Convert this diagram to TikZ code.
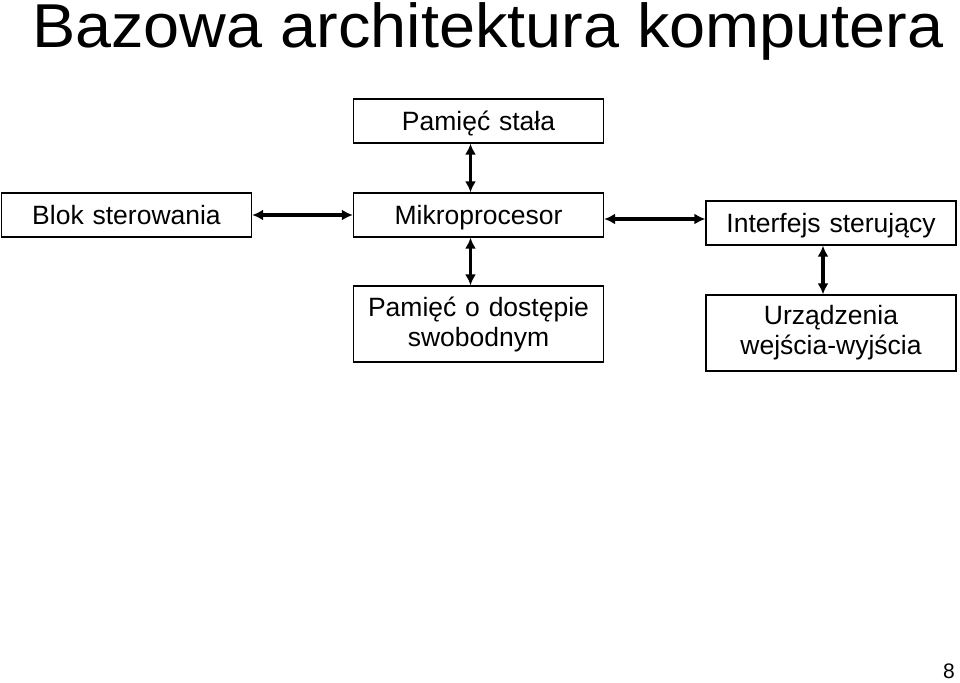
\documentclass[tikz,border=0pt]{standalone}
\usepackage{fontspec}
\setmainfont{Liberation Sans}
\newfontfamily\tytulfont[FakeStretch=1.045]{Liberation Sans}
\usepackage{tikz}
\usetikzlibrary{arrows.meta,positioning,calc}
\tikzset{>={Latex[length=11pt,width=11pt]}}
\tikzset{
  blok/.style={draw=black, line width=1.3pt, minimum height=44pt, text width=250pt, align=center, inner sep=0pt, font=\fontsize{26.5}{30}\selectfont},
  blokjeden/.style={blok, text height=19pt, text depth=1pt},
  blokdwa/.style={blok, minimum height=76pt},
  strzalka/.style={<->, line width=3.5pt}
}

\begin{document}
\begin{tikzpicture}[x=1pt, y=-1pt]
    \useasboundingbox (0,0) rectangle (960,682);

    \node[anchor=base west, inner sep=0pt, font=\tytulfont\fontsize{62}{64}\selectfont] (tytul) at (32,48) {Bazowa architektura komputera};

    \node[blokjeden] (ps) at (478.5,121) {Pami\k{e}\'c sta\l{}a};
    \node[blokjeden] (bs) at (126.5,215) {Blok sterowania};
    \node[blokjeden] (mp) at (478.5,215) {Mikroprocesor};
    \node[blokjeden] (is) at (831,223) {Interfejs steruj\k{a}cy};
    \node[blokdwa] (ram) at (478.5,324) {Pami\k{e}\'c o dost\k{e}pie\\swobodnym};
    \node[blokdwa] (io) at (831,333) {Urz\k{a}dzenia\\wej\'scia-wyj\'scia};

    % polaczenia
    \draw[strzalka] (bs.east) -- (mp.west);
    \draw[strzalka] ([xshift=-8pt]ps.south) -- ([xshift=-8pt]mp.north);
    \draw[strzalka] ([xshift=-8pt]mp.south) -- ([xshift=-8pt]ram.north);
    \draw[strzalka] ([yshift=-4pt]mp.east) -- ([yshift=4pt]is.west);
    \draw[strzalka] ([xshift=-8pt]is.south) -- ([xshift=-8pt]io.north);

    \node[anchor=base east, inner sep=0pt, font=\fontsize{21}{22}\selectfont] (nr) at (955,678) {8};
\end{tikzpicture}
\end{document}
